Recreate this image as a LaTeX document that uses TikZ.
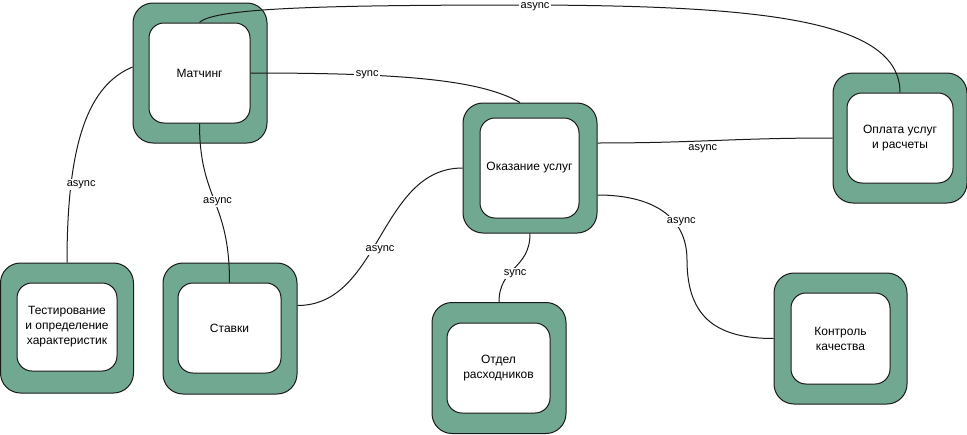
\documentclass[tikz,border=0pt]{standalone}
\usepackage{fontspec}
\setmainfont{Liberation Sans}
\definecolor{sage}{HTML}{71A891}
\definecolor{ink}{HTML}{1A1A1A}

\begin{document}
\begin{tikzpicture}[x=1pt, y=-1pt, line width=1pt,
  shell/.style={draw=ink, fill=sage, rounded corners=20pt, minimum width=134pt, minimum height=131pt, inner sep=0pt},
  core/.style={draw=ink, fill=white, rounded corners=15pt, minimum width=101pt, minimum height=90pt, align=center, inner sep=2pt, font=\fontsize{12}{15}\selectfont},
  link/.style={draw=ink},
  lbl/.style={fill=white, inner sep=1.5pt, font=\fontsize{11}{13}\selectfont}
]
  \useasboundingbox (0,0) rectangle (967,434);

  \node[shell, minimum height=140pt] (match) at (200,73) {};
  \node[core, minimum height=100pt] (match-in) at (199.5,73) {Матчинг};
  \node[shell, minimum height=130pt] (care) at (530,168) {};
  \node[core, minimum width=99pt, minimum height=100pt] (care-in) at (529.5,168) {Оказание услуг};
  \node[shell, minimum height=130pt] (pay) at (900,138) {};
  \node[core, minimum width=106pt] (pay-in) at (900,138) {Оплата услуг\\и расчеты};
  \node[shell, minimum width=133pt, minimum height=130pt] (test) at (67,328) {};
  \node[core, minimum width=100pt, minimum height=88pt] (test-in) at (67,327) {Тестирование\\и определение\\характеристик};
  \node[shell] (stake) at (230,328.5) {};
  \node[core, minimum width=103pt] (stake-in) at (229.5,328) {Ставки};
  \node[shell] (supply) at (499,368) {};
  \node[core, minimum width=103pt] (supply-in) at (498.5,368) {Отдел\\расходников};
  \node[shell, minimum width=133pt] (ctrl) at (840.5,338.5) {};
  \node[core, minimum width=99pt, minimum height=91pt] (ctrl-in) at (840.5,338.5) {Контроль\\качества};

  % connectors
  \draw[link] (match-in.north) .. controls +(15,-15) and +(-205,0) .. (535,5)
    node[lbl, yshift=-2pt] {async} .. controls +(225,1) and +(0,-73) .. (pay-in.north);
  \draw[link] (match-in.east) .. controls +(150,0) and +(-40,-23) .. ([xshift=-10pt]care.north)
    node[lbl, pos=.3] {sync};
  \draw[link] ([yshift=6pt]match.west) .. controls +(-43,18) and +(0,-123) .. (test.north)
    node[lbl, pos=.75, xshift=10pt, yshift=-2pt] {async};
  \draw[link] (match-in.south) .. controls +(0,77) and +(0,-83) .. (stake-in.north)
    node[lbl, pos=.5, xshift=3pt, yshift=-1pt] {async};
  \draw[link] (care.west) .. controls +(-83,0) and +(83,0) .. ([yshift=23pt]stake.east)
    node[lbl, pos=.5, yshift=-13pt] {async};
  \draw[link] ([yshift=25pt]care.east) .. controls +(100,0) and +(-100,0) .. (pay.west)
    node[lbl, pos=.44, yshift=-8pt] {async};
  \draw[link] (care.south) .. controls +(0,36) and +(0,-35) .. (supply.north)
    node[lbl, pos=.55, xshift=3pt, yshift=-3pt] {sync};
  \draw[link] ([yshift=-27pt]care.east) .. controls +(53,0) and +(0,-45) .. (687,260)
    node[lbl, pos=.62, xshift=9pt, yshift=-2pt] {async} .. controls +(0,60) and +(-54,0) .. (ctrl.west);
\end{tikzpicture}
\end{document}
